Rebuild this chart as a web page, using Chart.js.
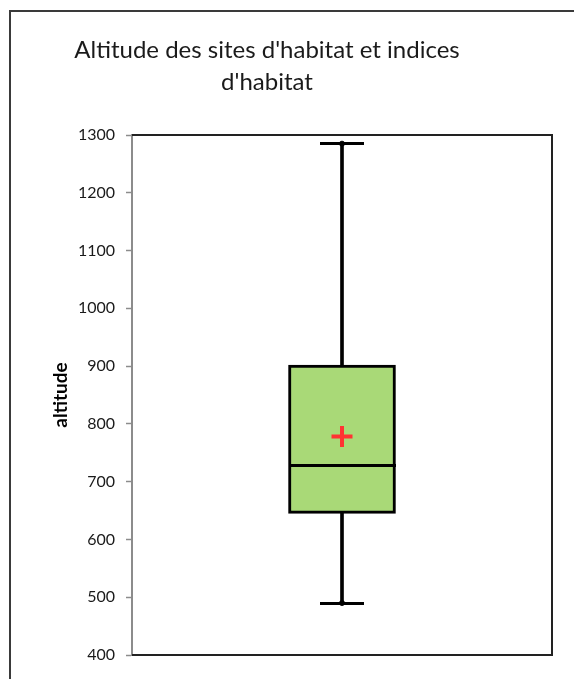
<!DOCTYPE html>
<html>
<head>
<meta charset="utf-8">
<script src="https://cdn.jsdelivr.net/npm/chart.js@4"></script>
<style>
  html, body { margin: 0; padding: 0; background: #fff; overflow: hidden; }
  canvas { display: block; }
</style>
</head>
<body>
<canvas id="chart" width="574" height="679"></canvas>
<script>
// box plot summary
const categories = [""];
const minimum = [490];
const q1 = [645];
const median = [728];
const q3 = [902];
const maximum = [1285];
const mean = [778];

const titleLines = ["Altitude des sites d'habitat et indices", "d'habitat"];
const yTitle = "altitude";
const yMin = 400;
const yMax = 1300;
const yStep = 100;

const green = "#a9d977";
const ink = "#000";
const red = "#ff3333";
const axisGray = "#8c8c8c";

// horizontal dash used as a point style (median line, whisker caps);
// an image keeps Chart.js from reserving padding for a huge point radius
function dash(w, h, color) {
  const c = document.createElement("canvas");
  c.width = w;
  c.height = h;
  const g = c.getContext("2d");
  g.fillStyle = color;
  g.fillRect(0, 0, w, h);
  return c;
}

// frame, plot border and title (Excel style)
const decor = {
  id: "decor",
  afterDraw(chart) {
    const { ctx, chartArea: a } = chart;
    ctx.save();
    ctx.strokeStyle = "#3a3a3a";
    ctx.lineWidth = 2;
    ctx.beginPath();
    ctx.moveTo(10, 700);
    ctx.lineTo(10, 11);
    ctx.lineTo(600, 11);
    ctx.stroke();

    ctx.strokeStyle = "#222";
    ctx.beginPath();
    ctx.moveTo(a.left, a.top);
    ctx.lineTo(a.right, a.top);
    ctx.lineTo(a.right, a.bottom);
    ctx.lineTo(a.left, a.bottom);
    ctx.stroke();

    ctx.fillStyle = "#1a1a1a";
    ctx.font = "24px Lato";
    ctx.textAlign = "center";
    ctx.textBaseline = "alphabetic";
    ctx.fillText(titleLines[0], 267, 58);
    ctx.fillText(titleLines[1], 267, 90);
    ctx.restore();
  },
};

const pointSet = (label, values, style, radius, color, width) => ({
  type: "line",
  label,
  data: values,
  showLine: false,
  pointStyle: style,
  pointRadius: radius,
  pointBorderColor: color,
  pointBackgroundColor: color,
  pointBorderWidth: width,
  order: 1,
});

new Chart(document.getElementById("chart"), {
  type: "bar",
  data: {
    labels: categories,
    datasets: [
      {
        label: "Moustaches",
        data: categories.map((c, i) => [minimum[i], maximum[i]]),
        backgroundColor: ink,
        barThickness: 3,
        grouped: false,
        order: 3,
      },
      {
        label: "Boîte",
        data: categories.map((c, i) => [q1[i], q3[i]]),
        backgroundColor: green,
        borderColor: ink,
        borderWidth: 3,
        borderSkipped: false,
        barThickness: 107,
        grouped: false,
        order: 2,
      },
      pointSet("Médiane", median, dash(107, 3, ink), 1, ink, 0),
      pointSet("Minimum", minimum, dash(44, 3, ink), 1, ink, 0),
      pointSet("Maximum", maximum, dash(44, 3, ink), 1, ink, 0),
      pointSet("Min pt", minimum, "circle", 2.5, ink, 1),
      pointSet("Max pt", maximum, "circle", 2.5, ink, 1),
      pointSet("Moyenne", mean, "cross", 10.5, red, 4),
    ],
  },
  options: {
    responsive: false,
    animation: false,
    layout: { padding: { left: 0, top: 135, right: 22, bottom: 24 } },
    plugins: {
      legend: { display: false },
      title: { display: false },
      tooltip: { enabled: false },
    },
    scales: {
      x: { display: false },
      y: {
        min: yMin,
        max: yMax,
        ticks: {
          stepSize: yStep,
          padding: 11,
          color: "#1a1a1a",
          font: { family: "Lato", size: 16 },
          callback: (v) => String(v),
        },
        grid: {
          drawOnChartArea: false,
          tickLength: 6,
          tickColor: axisGray,
          tickWidth: 1.5,
        },
        border: { color: axisGray, width: 2 },
        title: {
          display: true,
          text: yTitle,
          color: "#000",
          font: { family: "Lato", size: 19, weight: "bold" },
          padding: { top: 49, bottom: 0 },
        },
        afterFit(scale) {
          scale.width = 132;
        },
      },
    },
  },
  plugins: [decor],
});
</script>
</body>
</html>
